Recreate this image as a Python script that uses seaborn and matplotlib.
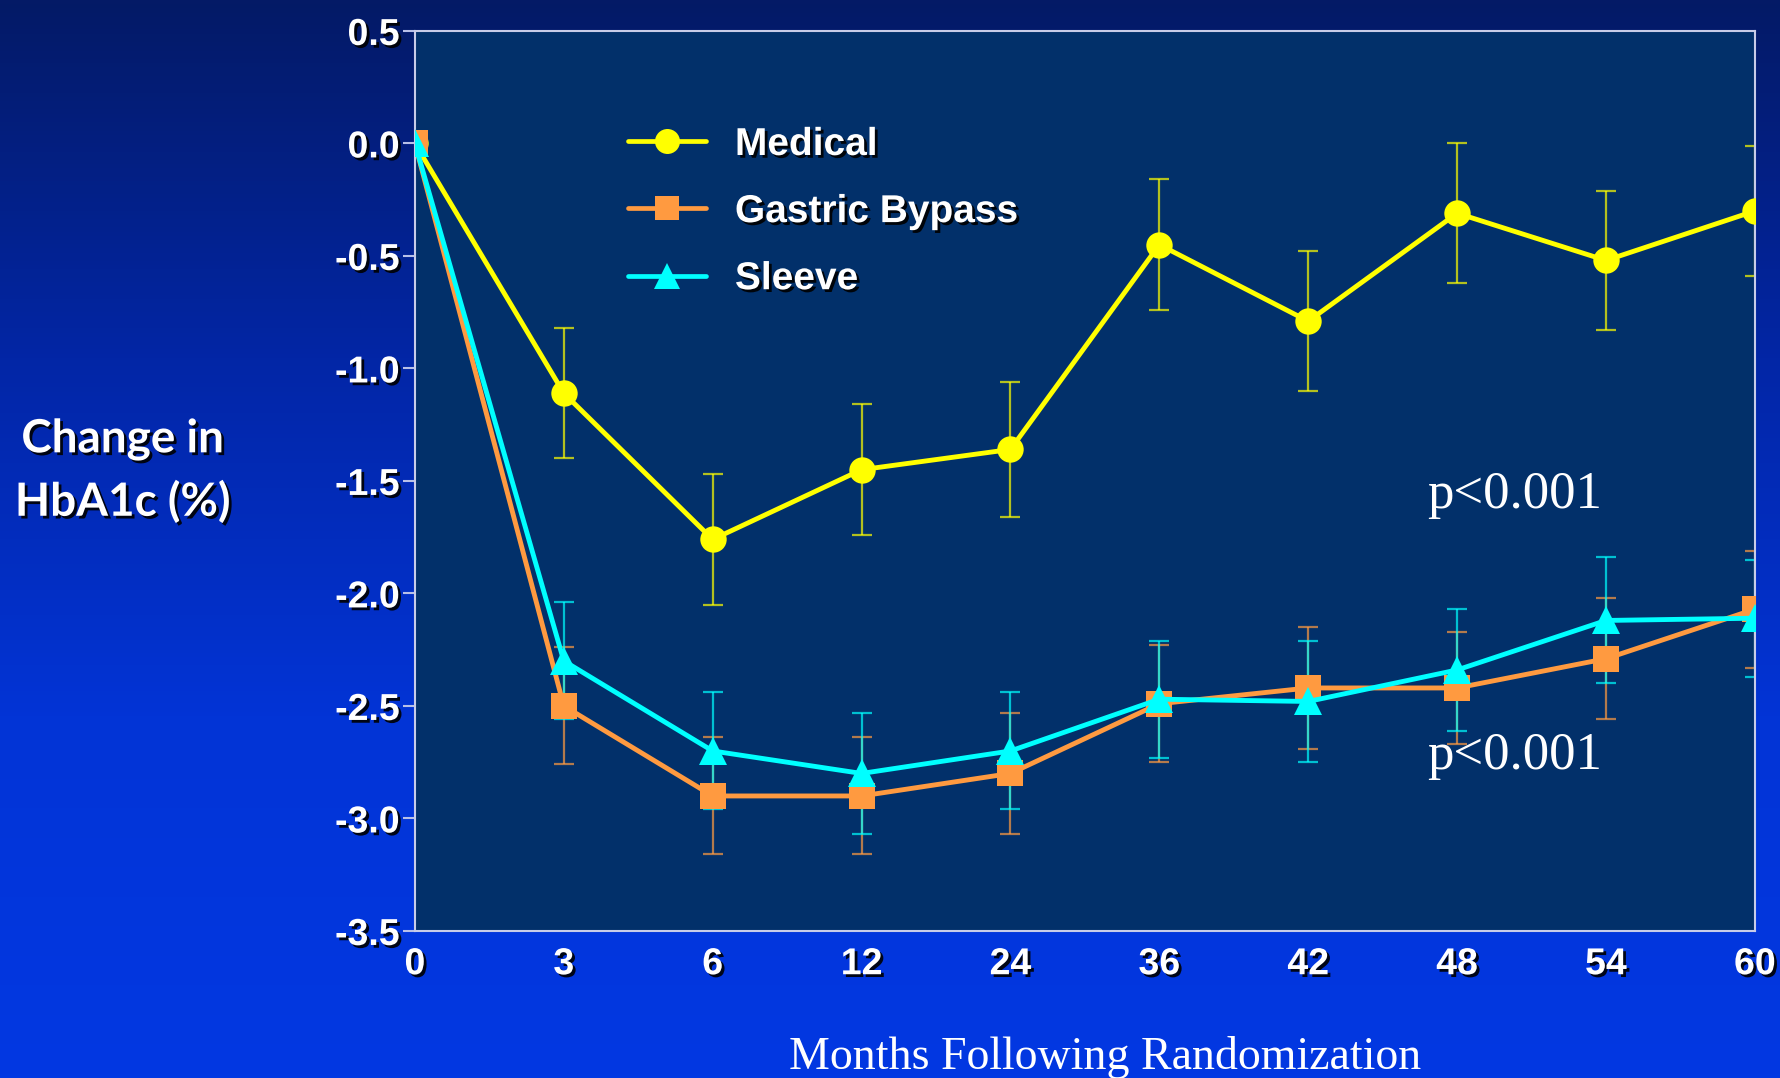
import numpy as np
import pandas as pd
import seaborn as sns
import matplotlib.pyplot as plt
import matplotlib.patheffects as pe
from matplotlib.lines import Line2D
from matplotlib.colors import LinearSegmentedColormap

# Follow-up visits (months) and mean change in HbA1c (%) with standard errors
months = ["0", "3", "6", "12", "24", "36", "42", "48", "54", "60"]
medical = [0.0, -1.11, -1.76, -1.45, -1.36, -0.45, -0.79, -0.31, -0.52, -0.30]
medical_err = [0.0, 0.29, 0.29, 0.29, 0.30, 0.29, 0.31, 0.31, 0.31, 0.29]
bypass = [0.0, -2.50, -2.90, -2.90, -2.80, -2.49, -2.42, -2.42, -2.29, -2.07]
bypass_err = [0.0, 0.26, 0.26, 0.26, 0.27, 0.26, 0.27, 0.25, 0.27, 0.26]
sleeve = [0.0, -2.30, -2.70, -2.80, -2.70, -2.47, -2.48, -2.34, -2.12, -2.11]
sleeve_err = [0.0, 0.26, 0.26, 0.27, 0.26, 0.26, 0.27, 0.27, 0.28, 0.26]
yticks = [0.5, 0.0, -0.5, -1.0, -1.5, -2.0, -2.5, -3.0, -3.5]

# Drawing order: medical underneath, sleeve on top
groups = ["Medical", "Gastric Bypass", "Sleeve"]
colors = {"Medical": "#ffff00", "Gastric Bypass": "#ff9a40", "Sleeve": "#00ffff"}
markers = {"Medical": "o", "Gastric Bypass": "s", "Sleeve": "^"}
sizes = {"Medical": 19, "Gastric Bypass": 18.5, "Sleeve": 19.5}
values = {"Medical": medical, "Gastric Bypass": bypass, "Sleeve": sleeve}
errors = {"Medical": medical_err, "Gastric Bypass": bypass_err, "Sleeve": sleeve_err}

pos = np.arange(len(months))
df = pd.concat(
    [pd.DataFrame({"pos": pos, "change": values[g], "err": errors[g], "group": g}) for g in groups],
    ignore_index=True,
)

sns.set_theme(style="dark")
plt.rcParams["font.family"] = ["Liberation Sans", "DejaVu Sans"]

fig = plt.figure(figsize=(17.8, 10.78), dpi=100)

# Slide-style vertical blue gradient behind everything
bg = fig.add_axes([0, 0, 1, 1], zorder=-10)
grad = np.linspace(0, 1, 256).reshape(-1, 1)
cmap = LinearSegmentedColormap.from_list("slide", ["#041a66", "#0226a6", "#0234d6", "#0238e2"])
bg.imshow(grad, aspect="auto", cmap=cmap, extent=[0, 1, 0, 1], origin="upper")
bg.axis("off")

ax = fig.add_axes([0.2331, 0.1364, 0.7528, 0.8349])
ax.set_facecolor("#02306a")

# Error bars first so the markers sit on top of them
for g in groups:
    sub = df[(df["group"] == g) & (df["err"] > 0)]
    ax.errorbar(sub["pos"], sub["change"], yerr=sub["err"], fmt="none",
                ecolor=colors[g], alpha=0.7, elinewidth=1.6, capsize=7, capthick=1.6, zorder=1.5)

for g in groups:
    sub = df[df["group"] == g]
    sns.lineplot(data=sub, x="pos", y="change", color=colors[g], marker=markers[g],
                 markersize=sizes[g], markeredgewidth=0, linewidth=3.5,
                 errorbar=None, legend=False, ax=ax, zorder=3)

shadow = [pe.withSimplePatchShadow(offset=(2, -2), shadow_rgbFace="black", alpha=0.9)]

ax.set_xlim(0, len(months) - 1)
ax.set_ylim(-3.5, 0.5)
ax.set_xticks(pos)
ax.set_xticklabels(months)
ax.set_yticks(yticks)
ax.set_yticklabels([f"{t:.1f}" for t in yticks])
ax.grid(False)

for lab in ax.get_xticklabels() + ax.get_yticklabels():
    lab.set_fontsize(27)
    lab.set_fontweight("bold")
    lab.set_color("white")
    lab.set_path_effects(shadow)

ax.tick_params(axis="y", which="major", left=True, length=9, width=1.5, color="#b8c0e8", pad=2)
ax.tick_params(axis="x", which="major", bottom=False, length=0, pad=11)
for s in ax.spines.values():
    s.set_visible(True)
    s.set_color("#c8cce8")
    s.set_linewidth(1.5)

ax.set_ylabel("Change in\nHbA1c (%)", rotation=0, fontsize=33, fontweight="bold",
              color="white", family=["Lato", "DejaVu Sans"], ha="center", va="center",
              linespacing=1.55, path_effects=shadow)
ax.yaxis.set_label_coords(-0.218, 0.511)
ax.set_xlabel("Months Following Randomization", fontsize=33, color="white",
              family=["Liberation Serif", "DejaVu Serif"], va="center")
ax.xaxis.set_label_coords(0.515, -0.141)

ax.text(6.8, -1.62, "p<0.001", fontsize=38, color="white",
        family=["Liberation Serif", "DejaVu Serif"], va="baseline", zorder=5)
ax.text(6.8, -2.78, "p<0.001", fontsize=38, color="white",
        family=["Liberation Serif", "DejaVu Serif"], va="baseline", zorder=5)

legend_order = ["Medical", "Gastric Bypass", "Sleeve"]
handles = [Line2D([], [], color=colors[g], marker=markers[g], markersize=sizes[g] - 1,
                  markeredgewidth=0, linewidth=3.4)
           for g in legend_order]
leg = ax.legend(handles, legend_order, loc="upper left",
                bbox_to_anchor=(628 / 1780, 1 - 127 / 1078), bbox_transform=fig.transFigure,
                frameon=False, fontsize=28, handlelength=2.0, handletextpad=0.75,
                labelspacing=0.8, borderpad=0, borderaxespad=0)
for t in leg.get_texts():
    t.set_color("white")
    t.set_fontweight("bold")
    t.set_path_effects(shadow)

fig.savefig("out.png", dpi=100, facecolor=fig.get_facecolor())
